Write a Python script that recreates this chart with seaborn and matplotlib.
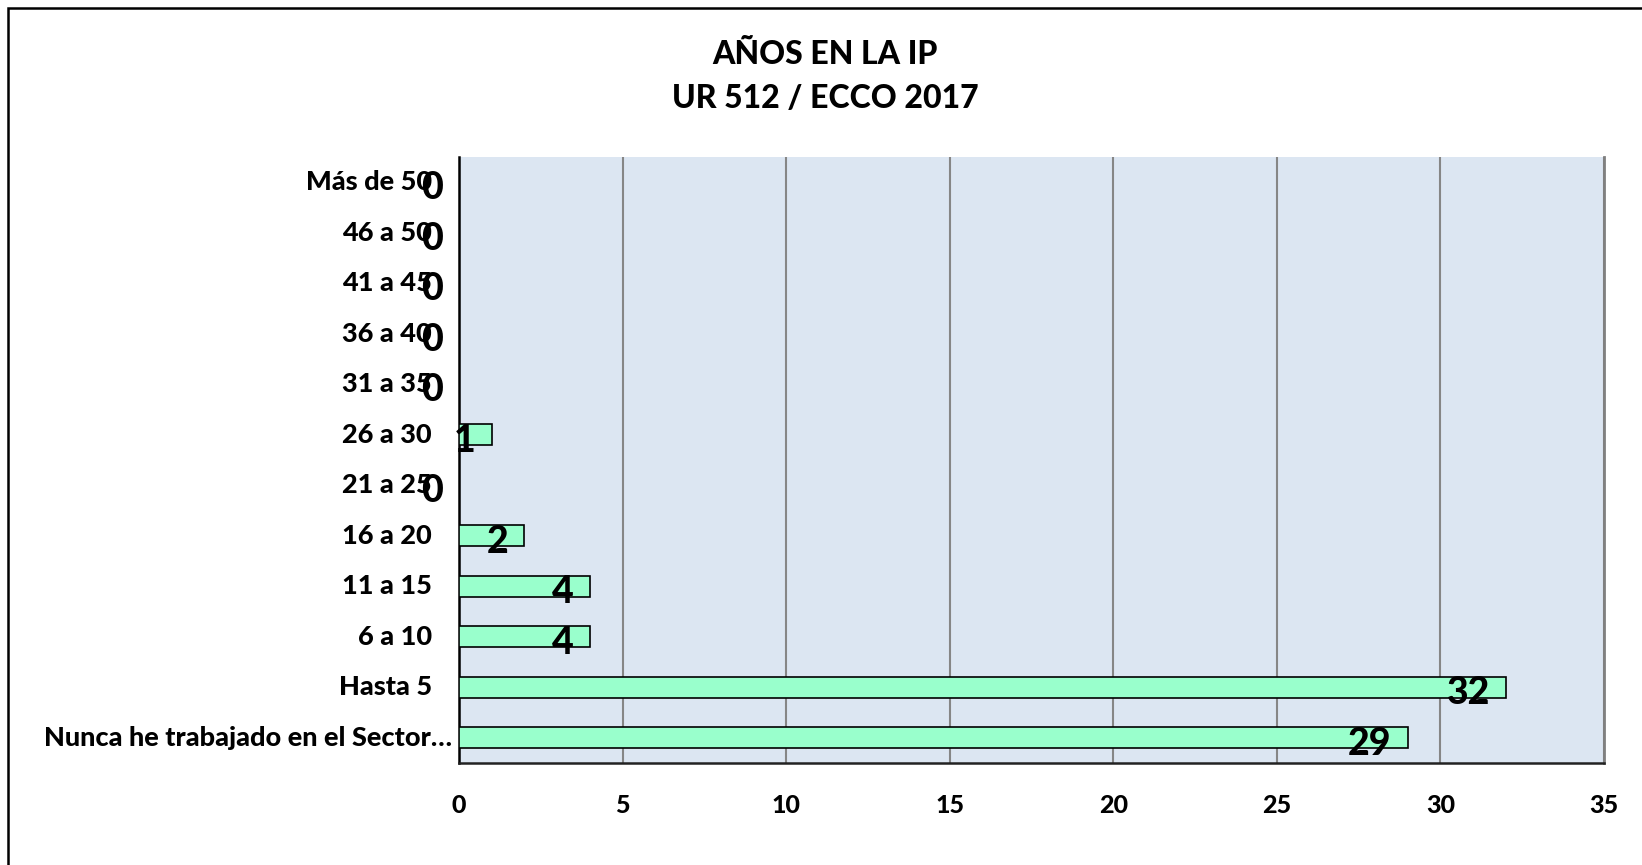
import matplotlib
matplotlib.use("Agg")
import matplotlib.pyplot as plt
import matplotlib.transforms as mtransforms
from matplotlib.patches import Rectangle
import seaborn as sns
import pandas as pd

categories = ["Más de 50", "46 a 50", "41 a 45", "36 a 40", "31 a 35", "26 a 30",
              "21 a 25", "16 a 20", "11 a 15", "6 a 10", "Hasta 5",
              "Nunca he trabajado en el Sector…"]
values = [0, 0, 0, 0, 0, 1, 0, 2, 4, 4, 32, 29]
x_ticks = [0, 5, 10, 15, 20, 25, 30, 35]
title_lines = ["AÑOS EN LA IP", "UR 512 / ECCO 2017"]

sns.set_theme(style="white")
plt.rcParams["font.family"] = ["Lato", "DejaVu Sans"]

df = pd.DataFrame({"cat": categories, "val": values})

W, H = 1642, 865
fig = plt.figure(figsize=(W / 100, H / 100), dpi=100)
ax = fig.add_axes([459 / W, 1 - 763 / H, (1604 - 459) / W, (763 - 157) / H])
ax.set_facecolor("#DCE6F2")

sns.barplot(data=df, x="val", y="cat", order=categories, orient="h",
            color="#99FFCC", saturation=1, width=0.41,
            edgecolor="black", linewidth=1.2, ax=ax, zorder=3)

ax.set_xlim(0, 35)
ax.set_ylim(11.5, -0.5)
ax.set_xticks(x_ticks)
ax.set_xticklabels([str(t) for t in x_ticks], fontsize=18, fontweight="black")
ax.tick_params(axis="x", length=0, pad=22, colors="black")
ax.set_yticks([])
ax.set_xlabel("")
ax.set_ylabel("")
ax.grid(axis="x", color="#868686", linewidth=1.5, zorder=0)
ax.set_axisbelow(True)

ax.spines["top"].set_visible(False)
ax.spines["left"].set_color("black")
ax.spines["left"].set_linewidth(1.8)
ax.spines["bottom"].set_color("#222222")
ax.spines["bottom"].set_linewidth(1.8)
ax.spines["right"].set_color("#808080")
ax.spines["right"].set_linewidth(2.0)

# category labels
ytrans = ax.get_yaxis_transform()
for i, cat in enumerate(categories):
    pad = -7 if cat.startswith("Nunca") else -27
    tr = mtransforms.offset_copy(ytrans, fig=fig, x=pad, y=0, units="dots")
    ax.text(0, i, cat, transform=tr, ha="right", va="center",
            fontsize=19.5, fontweight="black", color="black")

# data labels
for i, v in enumerate(values):
    tr = mtransforms.offset_copy(ax.transData, fig=fig, x=-16, y=-6, units="dots")
    ax.text(v, i, str(v), transform=tr, ha="right", va="center",
            fontsize=27, fontweight="black", color="black", zorder=5, clip_on=False)

# title
fig.text(0.5025, 1 - 54 / H, title_lines[0], ha="center", va="center",
         fontsize=23, fontweight="black", color="black")
fig.text(0.5025, 1 - 99 / H, title_lines[1], ha="center", va="center",
         fontsize=23, fontweight="black", color="black")

# outer border (open at right and bottom)
fig.patches.append(Rectangle((8 / W, -0.1), 1.2, 1 - 8 / H + 0.1,
                             transform=fig.transFigure, fill=False,
                             edgecolor="black", linewidth=1.8))

fig.savefig("out.png", dpi=100)
